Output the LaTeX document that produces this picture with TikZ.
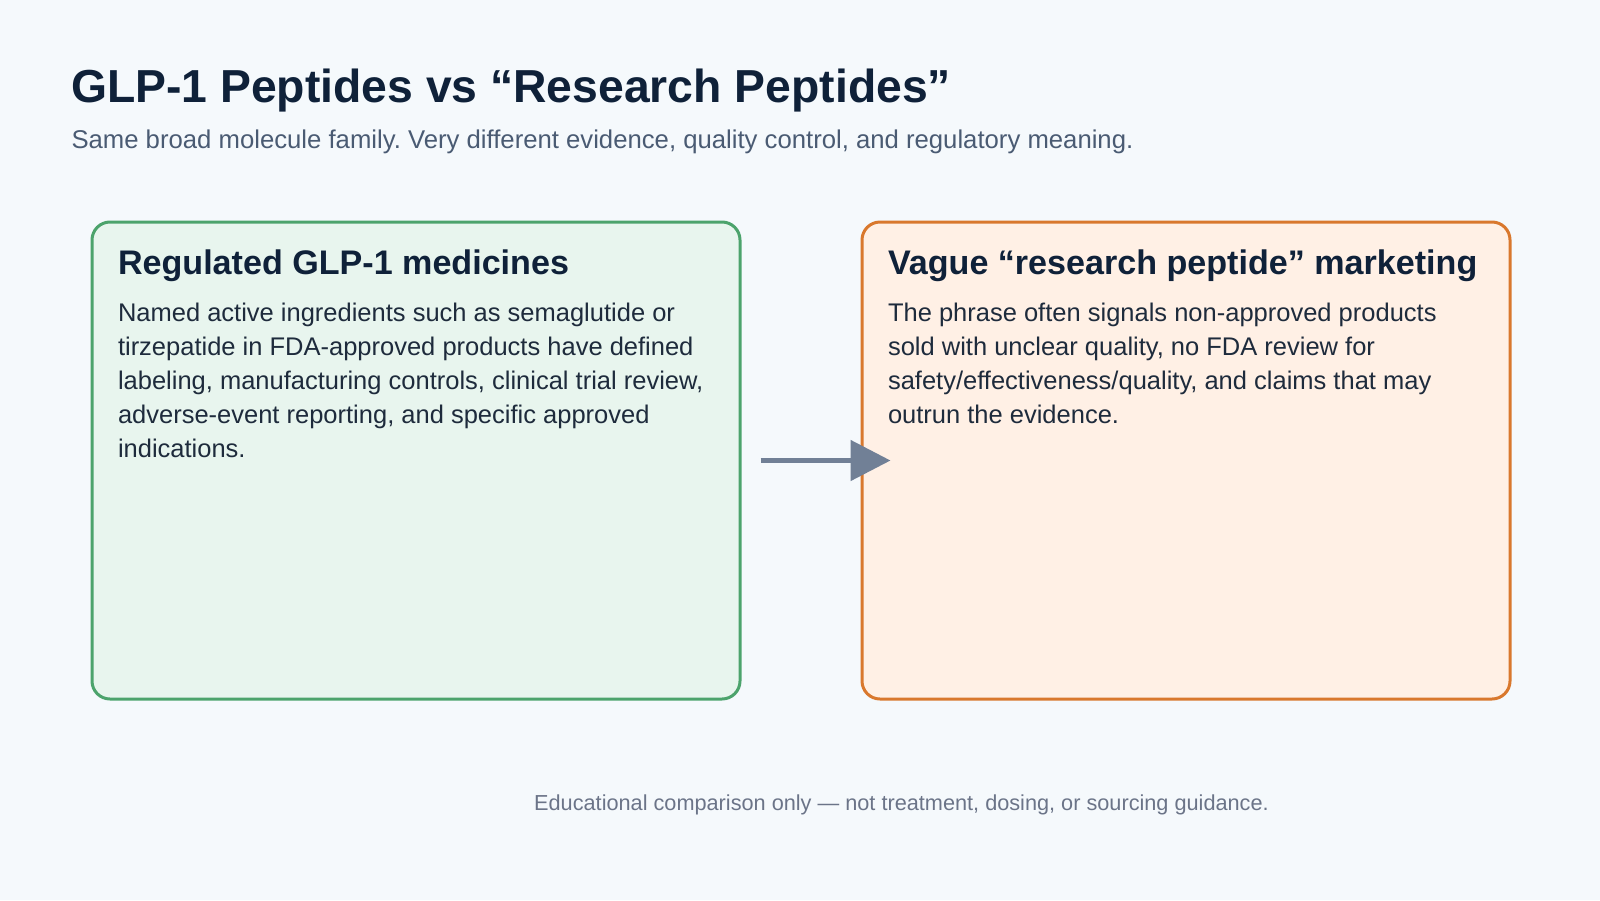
\documentclass[tikz,border=0pt]{standalone}
\usepackage{fontspec}
\setmainfont{Liberation Sans}
\usetikzlibrary{arrows.meta}
\definecolor{bgc}{HTML}{F5F9FC}
\definecolor{titlec}{HTML}{0F2139}
\definecolor{subc}{HTML}{4A5B73}
\definecolor{bodyc}{HTML}{1E2B3C}
\definecolor{footc}{HTML}{6B7488}
\definecolor{gstroke}{HTML}{4CA36C}
\definecolor{gfill}{HTML}{E8F5EE}
\definecolor{ostroke}{HTML}{D9782D}
\definecolor{ofill}{HTML}{FFF0E5}
\definecolor{arrc}{HTML}{718096}
\frenchspacing
\tikzset{
  panel/.style={draw, line width=3pt, rounded corners=18pt, minimum width=648pt, minimum height=477pt, inner sep=0pt},
  txt/.style={anchor=base west, inner sep=0pt, outer sep=0pt},
  headtxt/.style={txt, text=titlec, font=\fontsize{34.1}{38}\selectfont\bfseries},
  bodytxt/.style={txt, text=bodyc, font=\fontsize{25.5}{34}\selectfont},
}
\begin{document}
\begin{tikzpicture}[x=1pt,y=-1pt]
\fill[bgc] (0,0) rectangle (1600,900);
\useasboundingbox (0,0) rectangle (1600,900);
\node[txt, text=titlec, font=\fontsize{46.3}{52}\selectfont\bfseries] (title) at (71,102.7) {GLP-1 Peptides vs “Research Peptides”};
\node[txt, text=subc, font=\fontsize{25.7}{30}\selectfont] (sub) at (71.5,148.3) {Same broad molecule family. Very different evidence, quality control, and regulatory meaning.};
\node[panel, draw=gstroke, fill=gfill] (L) at (416,460.5) {};
\node[panel, draw=ostroke, fill=ofill] (R) at (1186,460.5) {};
\node[headtxt] (lh) at (118,274) {Regulated GLP-1 medicines};
\node[bodytxt] (lb) at (118,321.7) {\parbox[t]{640pt}{\raggedright
Named active ingredients such as semaglutide or\\
tirzepatide in FDA-approved products have defined\\
labeling, manufacturing controls, clinical trial review,\\
adverse-event reporting, and specific approved\\
indications.}};
\node[headtxt] (rh) at (888,274) {Vague “research peptide” marketing};
\node[bodytxt] (rb) at (888,321.7) {\parbox[t]{640pt}{\raggedright
The phrase often signals non-approved products\\
sold with unclear quality, no FDA review for\\
safety/effectiveness/quality, and claims that may\\
outrun the evidence.}};
\draw[arrc, line width=5pt, shorten <=19pt, shorten >=-30pt, -{Triangle[length=40pt,width=40pt]}] (L.east) -- (R.west);
\node[anchor=base, inner sep=0pt, text=footc, font=\fontsize{21.7}{24}\selectfont] (foot) at (901.5,810.7) {Educational comparison only — not treatment, dosing, or sourcing guidance.};
\end{tikzpicture}
\end{document}
